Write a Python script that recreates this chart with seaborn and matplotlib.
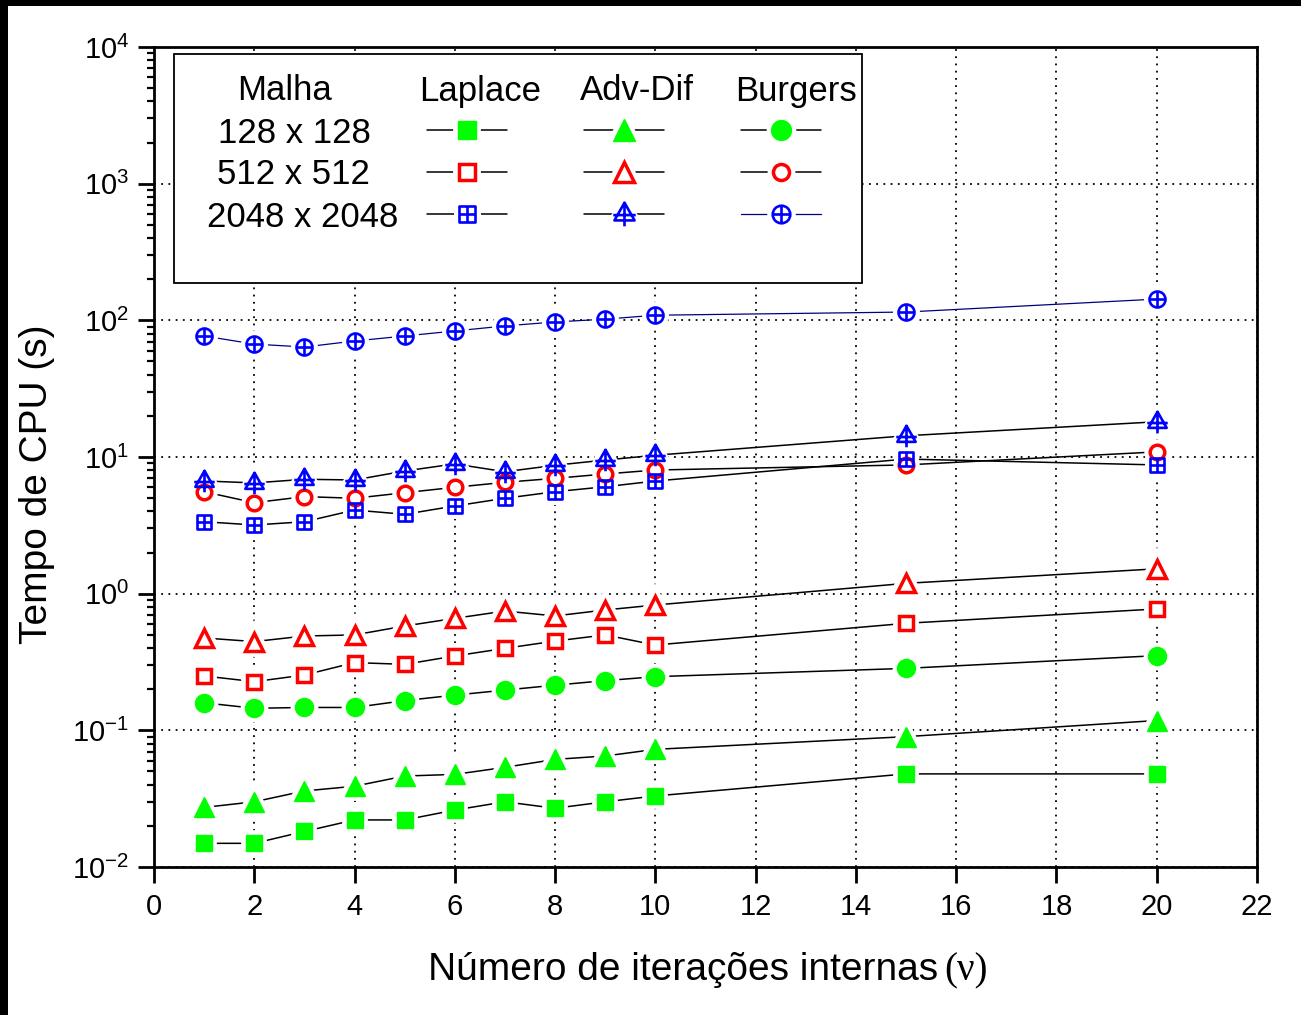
import matplotlib
matplotlib.use("Agg")
import matplotlib.pyplot as plt
import seaborn as sns
import numpy as np
from matplotlib.path import Path
from matplotlib.patches import Rectangle
from matplotlib.ticker import LogLocator, MultipleLocator, NullFormatter

# ---------------------------------------------------------------- data
nu = [1, 2, 3, 4, 5, 6, 7, 8, 9, 10, 15, 20]

laplace_128 = [0.0149, 0.0149, 0.0182, 0.0221, 0.0221, 0.0261, 0.030, 0.0269, 0.030, 0.0331, 0.048, 0.048]
advdif_128 = [0.0273, 0.030, 0.036, 0.039, 0.0463, 0.0476, 0.0536, 0.0613, 0.0649, 0.0726, 0.0899, 0.118]
burgers_128 = [0.159, 0.145, 0.147, 0.147, 0.165, 0.181, 0.197, 0.214, 0.231, 0.247, 0.284, 0.352]

laplace_512 = [0.25, 0.227, 0.254, 0.313, 0.304, 0.35, 0.398, 0.45, 0.499, 0.421, 0.607, 0.773]
advdif_512 = [0.474, 0.446, 0.49, 0.499, 0.58, 0.66, 0.746, 0.687, 0.76, 0.826, 1.19, 1.52]
burgers_512 = [5.57, 4.63, 5.13, 4.99, 5.48, 6.0, 6.53, 6.98, 7.51, 8.03, 8.75, 10.9]

laplace_2048 = [3.36, 3.18, 3.36, 4.09, 3.81, 4.38, 4.99, 5.57, 6.06, 6.67, 9.66, 8.75]
advdif_2048 = [6.68, 6.46, 6.87, 6.79, 7.9, 8.9, 7.8, 8.7, 9.5, 10.3, 14.3, 18.1]
burgers_2048 = [76.8, 67.0, 63.8, 70.6, 76.8, 83.6, 91.0, 97.3, 102.0, 109.0, 115.0, 143.0]

mesh_labels = ["128 x 128", "512 x 512", "2048 x 2048"]
problem_labels = ["Laplace", "Adv-Dif", "Burgers"]
x_ticks = list(range(0, 23, 2))

# ---------------------------------------------------------------- style
sns.set_style("white")
plt.rcParams.update({
    "font.family": ["Liberation Sans", "DejaVu Sans"],
    "mathtext.fontset": "custom",
    "mathtext.rm": "Liberation Sans",
    "mathtext.it": "Liberation Sans:italic",
    "mathtext.bf": "Liberation Sans:bold",
    "mathtext.default": "regular",
    "axes.unicode_minus": False,
    "text.color": "black",
    "axes.labelcolor": "black",
    "xtick.color": "black",
    "ytick.color": "black",
    "xtick.labelcolor": "black",
    "ytick.labelcolor": "black",
})

GREEN = "#00ff00"
RED = "#ff0000"
BLUE = "#0000ff"
NAVY = "#000080"
GAP = 3.0  # white clearance (pt) between connecting lines and symbols


def compound(outline, segments):
    """Closed outline plus open stroke segments as one marker path."""
    verts = list(outline.vertices)
    codes = list(outline.codes) if outline.codes is not None else (
        [Path.MOVETO] + [Path.LINETO] * (len(outline.vertices) - 1))
    for (a, b) in segments:
        verts += [a, b]
        codes += [Path.MOVETO, Path.LINETO]
    return Path(verts, codes)


square = Path([(-1, -1), (1, -1), (1, 1), (-1, 1), (-1, -1)],
              [Path.MOVETO, Path.LINETO, Path.LINETO, Path.LINETO, Path.CLOSEPOLY])
circle_plus = compound(Path.unit_circle(), [((-1, 0), (1, 0)), ((0, -1), (0, 1))])
square_plus = compound(square, [((-1, 0), (1, 0)), ((0, -1), (0, 1))])
tri = Path([(0, 1.0), (-0.85, -0.5), (0.85, -0.5), (0, 1.0)],
           [Path.MOVETO, Path.LINETO, Path.LINETO, Path.CLOSEPOLY])
triangle_plus = compound(tri, [((-0.95, -0.05), (0.95, -0.05)), ((0, 1.0), (0, -1.0))])

# marker, size, face, edge, edge width, line colour, line width
styles = {
    ("128", "Laplace"): ("s", 11.5, GREEN, GREEN, 1.0, "black", 1.1),
    ("128", "Adv-Dif"): ("^", 14.0, GREEN, GREEN, 1.0, "black", 1.1),
    ("128", "Burgers"): ("o", 13.0, GREEN, GREEN, 1.0, "black", 1.1),
    ("512", "Laplace"): ("s", 10.0, "white", RED, 2.5, "black", 1.1),
    ("512", "Adv-Dif"): ("^", 13.0, "white", RED, 2.5, "black", 1.1),
    ("512", "Burgers"): ("o", 10.5, "white", RED, 2.5, "black", 1.1),
    ("2048", "Laplace"): (square_plus, 10.0, "none", BLUE, 1.9, "black", 1.1),
    ("2048", "Adv-Dif"): (triangle_plus, 15.5, "none", BLUE, 1.9, "black", 1.1),
    ("2048", "Burgers"): (circle_plus, 11.5, "none", BLUE, 1.9, NAVY, 0.9),
}
values = {
    ("128", "Laplace"): laplace_128, ("128", "Adv-Dif"): advdif_128, ("128", "Burgers"): burgers_128,
    ("512", "Laplace"): laplace_512, ("512", "Adv-Dif"): advdif_512, ("512", "Burgers"): burgers_512,
    ("2048", "Laplace"): laplace_2048, ("2048", "Adv-Dif"): advdif_2048, ("2048", "Burgers"): burgers_2048,
}
order = [(m, p) for m in ["128", "512", "2048"] for p in ["Laplace", "Adv-Dif", "Burgers"]]

# ---------------------------------------------------------------- figure
W, H = 1301, 1015
fig = plt.figure(figsize=(W / 100, H / 100), dpi=100)
fig.patch.set_facecolor("white")
ax = fig.add_axes([154 / W, 1 - 867 / H, 1103 / W, 820 / H])
ax.set_yscale("log")
ax.set_xlim(0, 22)
ax.set_ylim(1e-2, 1e4)

for key in order:
    mk, ms, fc, ec, mew, lc, lw = styles[key]
    y = values[key]
    sns.lineplot(x=nu, y=y, ax=ax, color=lc, lw=lw, estimator=None, sort=False, zorder=2)
    sns.lineplot(x=nu, y=y, ax=ax, linestyle="none", marker=mk, ms=ms,
                 mfc="white", mec="white", mew=mew + 2 * GAP,
                 estimator=None, sort=False, zorder=3)
for key in order:
    mk, ms, fc, ec, mew, lc, lw = styles[key]
    sns.lineplot(x=nu, y=values[key], ax=ax, linestyle="none", marker=mk, ms=ms,
                 mfc=fc, mec=ec, mew=mew, estimator=None, sort=False, zorder=4)

# ---------------------------------------------------------------- axes
ax.set_xticks(x_ticks)
ax.yaxis.set_major_locator(LogLocator(base=10, numticks=20))
ax.yaxis.set_minor_locator(LogLocator(base=10, subs=np.arange(2, 10), numticks=100))
ax.yaxis.set_minor_formatter(NullFormatter())
ax.tick_params(axis="both", which="major", direction="out", length=11.5, width=2.0,
               labelsize=21, colors="black", top=False, right=False)
ax.tick_params(axis="x", which="major", pad=7, bottom=True)
ax.tick_params(axis="y", which="major", pad=6.5, left=True)
ax.tick_params(axis="y", which="minor", direction="out", length=5, width=1.6,
               left=True, right=False, colors="black")
ax.tick_params(axis="x", which="minor", bottom=False, top=False)
for s in ax.spines.values():
    s.set_visible(True)
    s.set_linewidth(2.0)
    s.set_color("black")
ax.set_axisbelow(True)
ax.grid(True, which="major", axis="both", color="black",
        linestyle=(0, (1, 3)), linewidth=1.3)
ax.grid(False, which="minor")
ax.set_xlabel("")
ax.set_ylabel("")

# axis titles
fig.text(938 / W, 1 - 980 / H, "Número de iterações internas", fontsize=28,
         ha="right", va="baseline", color="black")
fig.text(944 / W, 1 - 980 / H, "(ν)", fontsize=28, ha="left", va="baseline",
         family=["Liberation Serif", "DejaVu Serif"], color="black")
fig.text(37 / W, 1 - 484 / H, "Tempo de CPU (s)", fontsize=28, rotation=90,
         ha="center", va="center", color="black")

# ---------------------------------------------------------------- key table
def axfx(px):
    return (px - 154) / 1103


def axfy(py):
    return 1 - (py - 47) / 820


ax.add_patch(Rectangle((axfx(174), axfy(283)), axfx(862) - axfx(174), axfy(54) - axfy(283),
                       transform=ax.transAxes, facecolor="white", edgecolor="black",
                       linewidth=1.3, zorder=5))

ax.text(axfx(284), axfy(100), "Malha", transform=ax.transAxes, fontsize=25,
        ha="center", va="baseline", zorder=8, color="black")
header_x = [480, 637, 796]
for px, lab in zip(header_x, problem_labels):
    ax.text(axfx(px), axfy(100.5), lab, transform=ax.transAxes, fontsize=25,
            ha="center", va="baseline", zorder=8, color="black")

row_text_x = [294, 293, 303]
row_base_y = [143, 184, 227]
row_mark_y = [130, 172, 214]
for lab, tx, ty in zip(mesh_labels, row_text_x, row_base_y):
    ax.text(axfx(tx), axfy(ty), lab, transform=ax.transAxes, fontsize=25,
            ha="center", va="baseline", zorder=8, color="black")

marker_x = [467, 624, 781]
meshes = ["128", "512", "2048"]
problems = ["Laplace", "Adv-Dif", "Burgers"]
for mesh, my in zip(meshes, row_mark_y):
    for prob, mx in zip(problems, marker_x):
        mk, ms, fc, ec, mew, lc, lw = styles[(mesh, prob)]
        ax.plot([axfx(mx - 40), axfx(mx + 40)], [axfy(my), axfy(my)], transform=ax.transAxes,
                color=lc, lw=lw, zorder=6, clip_on=False)
        ax.plot([axfx(mx)], [axfy(my)], transform=ax.transAxes, linestyle="none",
                marker=mk, ms=ms * 1.1, mfc="white", mec="white", mew=mew + 2 * GAP,
                zorder=7, clip_on=False)
        ax.plot([axfx(mx)], [axfy(my)], transform=ax.transAxes, linestyle="none",
                marker=mk, ms=ms * 1.1, mfc=fc, mec=ec, mew=mew, zorder=8, clip_on=False)

# black frame strips along top and left edges
fig.patches.append(Rectangle((0, 1 - 6 / H), 1, 6 / H, transform=fig.transFigure,
                             facecolor="black", edgecolor="none", zorder=10))
fig.patches.append(Rectangle((0, 0), 8 / W, 1, transform=fig.transFigure,
                             facecolor="black", edgecolor="none", zorder=10))

fig.savefig("out.png", dpi=100, facecolor="white")
